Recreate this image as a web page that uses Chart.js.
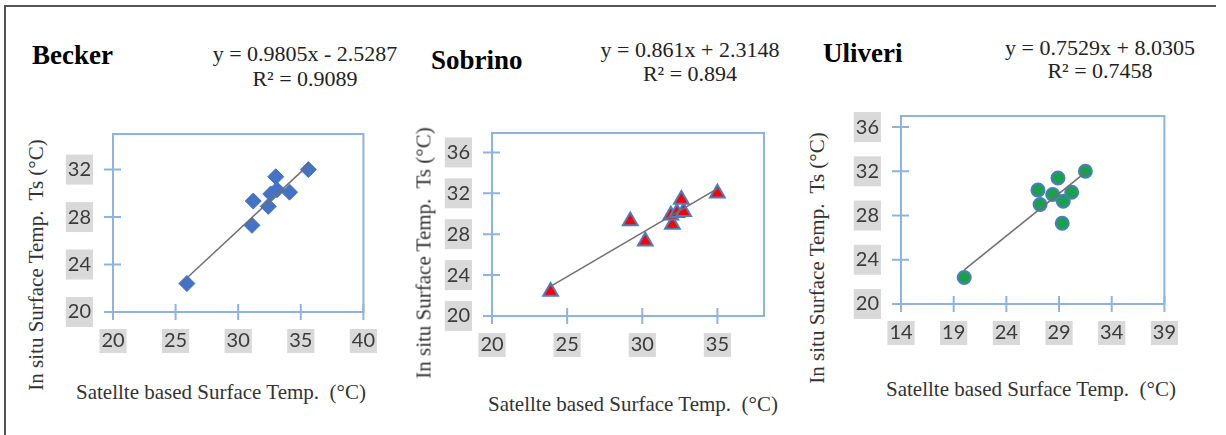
<!DOCTYPE html>
<html>
<head>
<meta charset="utf-8">
<script src="https://cdn.jsdelivr.net/npm/chart.js@4.4.1/dist/chart.umd.min.js"></script>
<style>
  body { margin: 0; background: #fff; width: 1226px; height: 435px; overflow: hidden; position: relative;
         font-family: "Liberation Serif", "Times New Roman", serif; }
  .frame { position: absolute; left: 4px; top: 5px; width: 1210px; height: 440px;
           border-top: 2px solid #555; border-left: 2px solid #555; }
  canvas { position: absolute; }
  .txt { position: absolute; white-space: nowrap; line-height: 1; }
  .name { font-weight: bold; font-size: 27px; color: #000; transform: translateY(-50%); }
  .eq { font-size: 22px; color: #222; transform: translate(-50%, -50%); }
  .xt { font-size: 21px; color: #333; transform: translate(-50%, -50%); }
  .yt { font-size: 21px; color: #333; transform: translate(-50%, -50%) rotate(-90deg); }
</style>
</head>
<body>
<div class="frame"></div>

<div class="txt name" style="left:32px; top:55px">Becker</div>
<div class="txt eq" style="left:305px; top:54px">y = 0.9805x - 2.5287</div>
<div class="txt eq" style="left:305px; top:79px">R² = 0.9089</div>
<canvas id="becker" width="339" height="262" style="left:53px; top:100px"></canvas>
<div class="txt xt" style="left:221px; top:392px">Satellte based Surface Temp.&nbsp; (°C)</div>
<div class="txt yt" style="left:36px; top:265px">In situ Surface Temp.&nbsp; Ts (°C)</div>

<div class="txt name" style="left:431px; top:60px">Sobrino</div>
<div class="txt eq" style="left:690px; top:50px">y = 0.861x + 2.3148</div>
<div class="txt eq" style="left:690px; top:74px">R² = 0.894</div>
<canvas id="sobrino" width="352" height="267" style="left:432px; top:99px"></canvas>
<div class="txt xt" style="left:633px; top:404px">Satellte based Surface Temp.&nbsp; (°C)</div>
<div class="txt yt" style="left:424px; top:253px">In situ Surface Temp.&nbsp; Ts (°C)</div>

<div class="txt name" style="left:823px; top:53px">Uliveri</div>
<div class="txt eq" style="left:1100px; top:48px">y = 0.7529x + 8.0305</div>
<div class="txt eq" style="left:1100px; top:71px">R² = 0.7458</div>
<canvas id="uliveri" width="352" height="272" style="left:841px; top:82px"></canvas>
<div class="txt xt" style="left:1031px; top:389px">Satellte based Surface Temp.&nbsp; (°C)</div>
<div class="txt yt" style="left:817px; top:258px">In situ Surface Temp.&nbsp; Ts (°C)</div>

<script>
// Becker
const beckerSat = [25.9, 31.1, 32.4, 31.2, 32.6, 34.1, 33.1, 33.0, 35.6];
const beckerInSitu = [22.4, 27.3, 28.9, 29.35, 29.95, 30.1, 30.3, 31.4, 32.0];
const beckerTrendX = [25.9, 35.6];
const beckerTrendY = [22.87, 32.38];
const beckerXTicks = [20, 25, 30, 35, 40];
const beckerYTicks = [20, 24, 28, 32];

// Sobrino
const sobrinoSat = [23.9, 29.2, 30.2, 32.0, 31.9, 32.3, 32.75, 32.6, 35.0];
const sobrinoInSitu = [22.4, 29.3, 27.3, 28.95, 29.85, 30.1, 30.2, 31.4, 32.0];
const sobrinoTrendX = [23.9, 35.0];
const sobrinoTrendY = [22.89, 32.45];
const sobrinoXTicks = [20, 25, 30, 35];
const sobrinoYTicks = [20, 24, 28, 32, 36];

// Uliveri
const uliveriSat = [20.0, 27.0, 27.2, 28.4, 28.9, 29.4, 29.3, 30.2, 31.5];
const uliveriInSitu = [22.4, 30.3, 29.0, 29.9, 31.4, 29.3, 27.3, 30.1, 32.0];
const uliveriTrendX = [20.0, 31.5];
const uliveriTrendY = [23.09, 31.9];
const uliveriXTicks = [14, 19, 24, 29, 34, 39];
const uliveriYTicks = [20, 24, 28, 32, 36];

const AXIS_COLOR = "#8fb3e0";

const toPoints = (xs, ys) => xs.map((x, i) => ({ x, y: ys[i] }));

// plot frame + Excel style cross tick marks
const plotFrame = {
  id: "plotFrame",
  beforeDatasetsDraw(chart) {
    const { ctx, chartArea: a, scales: { x, y } } = chart;
    ctx.save();
    ctx.strokeStyle = AXIS_COLOR;
    ctx.lineWidth = 2;
    ctx.strokeRect(a.left, a.top, a.right - a.left, a.bottom - a.top);
    ctx.beginPath();
    x.ticks.forEach(t => {
      const px = x.getPixelForValue(t.value);
      ctx.moveTo(px, a.bottom - 8);
      ctx.lineTo(px, a.bottom + 8);
    });
    y.ticks.forEach(t => {
      const py = y.getPixelForValue(t.value);
      ctx.moveTo(a.left - 9, py);
      ctx.lineTo(a.left + 8, py);
    });
    ctx.stroke();
    ctx.restore();
  }
};

function axis(min, max, tickVals, side) {
  return {
    type: "linear",
    min, max,
    afterBuildTicks: s => { s.ticks = tickVals.map(v => ({ value: v })); },
    afterFit: s => { if (side === "x") s.height = 50; else s.width = 60; },
    grid: { display: false, drawTicks: false },
    border: { display: false },
    ticks: {
      font: { family: "Lato", size: 20 },
      color: "#3a3a3a",
      padding: side === "x" ? 17 : 22,
      maxRotation: 0,
      autoSkip: false,
      showLabelBackdrop: true,
      backdropColor: "#d9d9d9",
      backdropPadding: side === "x" ? { x: 2, y: 0 } : { x: 2, y: 3 }
    }
  };
}

function makePanel(id, pts, trend, marker, xr, yr) {
  new Chart(document.getElementById(id), {
    type: "scatter",
    data: {
      datasets: [
        {
          data: trend,
          showLine: true,
          pointRadius: 0,
          borderColor: "#6f6f6f",
          borderWidth: 1.5
        },
        Object.assign({ data: pts }, marker)
      ]
    },
    options: {
      responsive: false,
      animation: false,
      events: [],
      layout: { padding: { top: 20, right: 20, left: 0, bottom: 0 } },
      scales: {
        x: axis(xr[0], xr[1], xr[2], "x"),
        y: axis(yr[0], yr[1], yr[2], "y")
      },
      plugins: { legend: { display: false }, tooltip: { enabled: false } }
    },
    plugins: [plotFrame]
  });
}

makePanel("becker",
  toPoints(beckerSat, beckerInSitu),
  toPoints(beckerTrendX, beckerTrendY),
  { pointStyle: "rectRot", pointRadius: 8, backgroundColor: "#4472c4", borderColor: "#4472c4", borderWidth: 1 },
  [20, 40, beckerXTicks], [20, 35, beckerYTicks]);

makePanel("sobrino",
  toPoints(sobrinoSat, sobrinoInSitu),
  toPoints(sobrinoTrendX, sobrinoTrendY),
  { pointStyle: "triangle", pointRadius: 8.5, backgroundColor: "#ff0000", borderColor: "#4a7ebf", borderWidth: 2 },
  [20, 38.1, sobrinoXTicks], [20, 37.9, sobrinoYTicks]);

makePanel("uliveri",
  toPoints(uliveriSat, uliveriInSitu),
  toPoints(uliveriTrendX, uliveriTrendY),
  { pointStyle: "circle", pointRadius: 6.5, backgroundColor: "#17a24b", borderColor: "#4a7ebf", borderWidth: 2 },
  [14, 39, uliveriXTicks], [20, 37, uliveriYTicks]);
</script>
</body>
</html>
